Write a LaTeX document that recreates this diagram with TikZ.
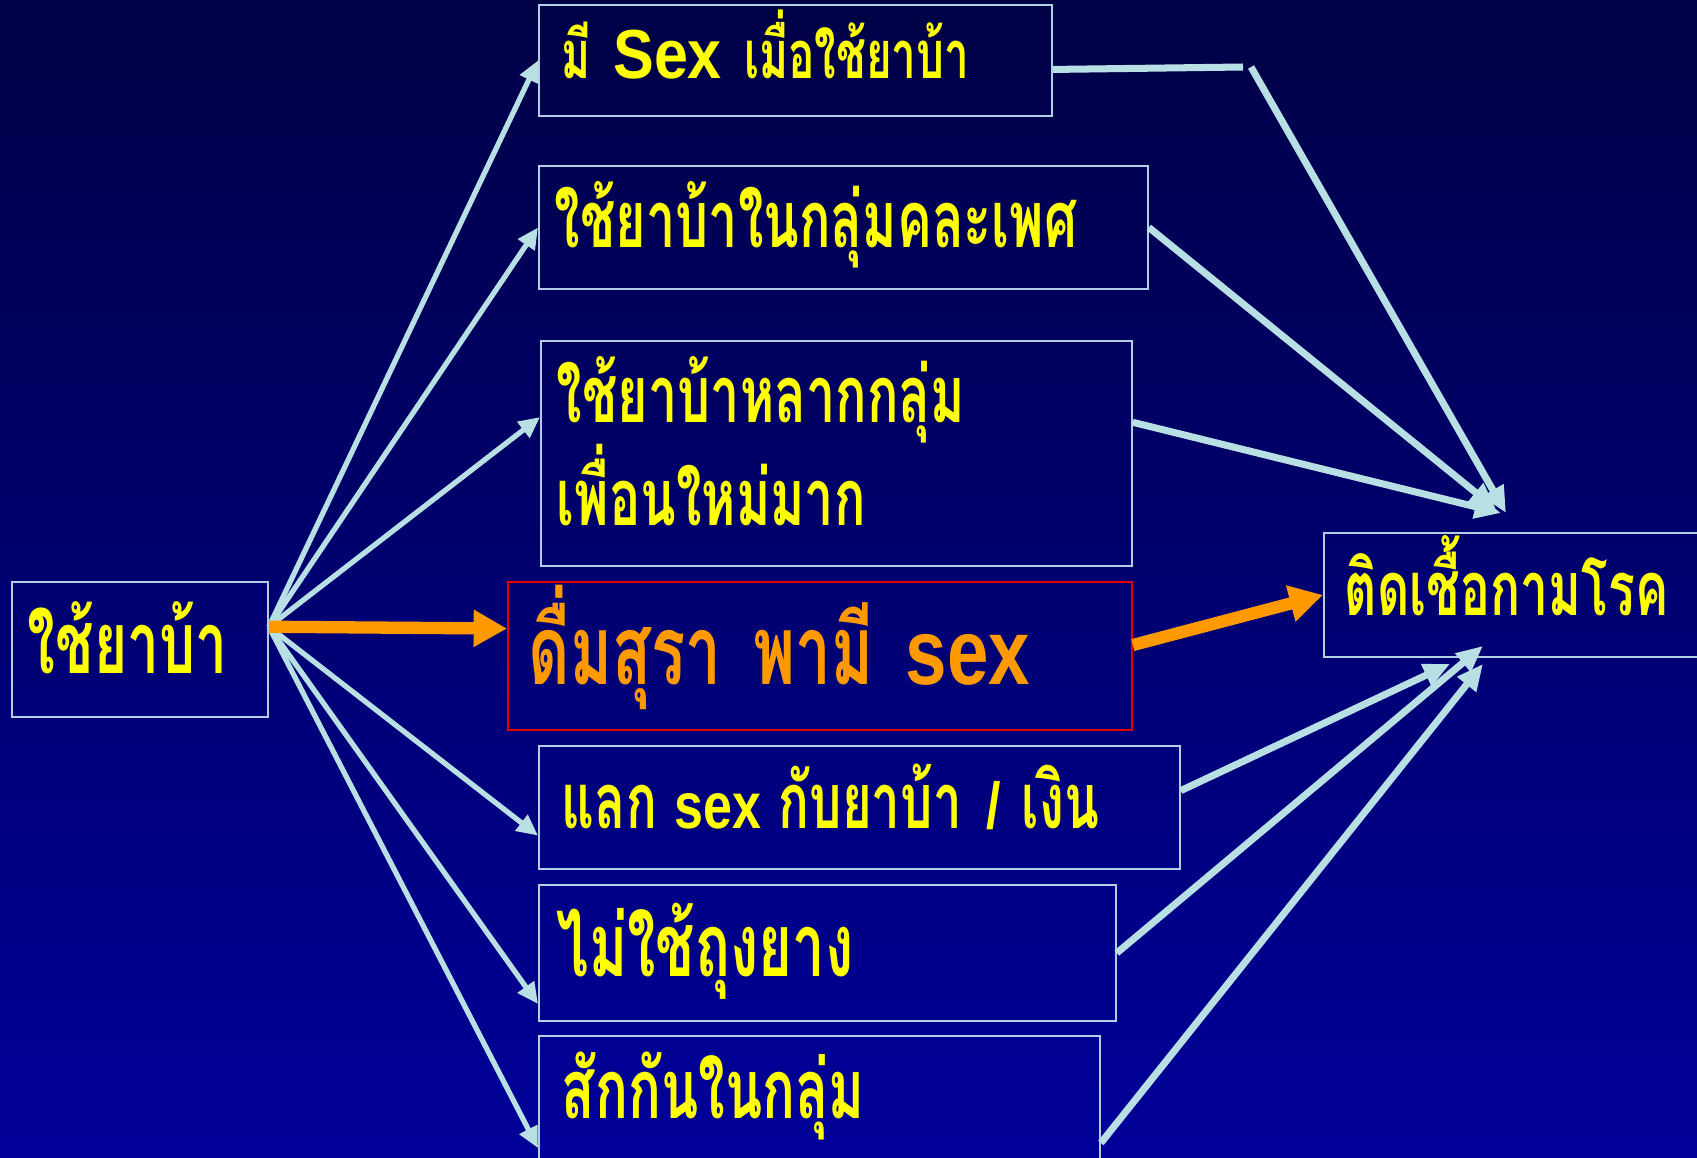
\documentclass[tikz,border=0pt]{standalone}
\usepackage{fontspec}
\usetikzlibrary{arrows.meta,calc}
\newfontfamily\thaifont[Script=Thai,FakeStretch=0.66]{Loma}
\newfontfamily\latinfont[FakeStretch=0.8]{Liberation Sans}
\newfontfamily\latinwide[FakeStretch=0.88]{Liberation Sans}
\definecolor{bgtop}{RGB}{0,0,70}
\definecolor{bgbottom}{RGB}{0,0,153}
\definecolor{frame}{RGB}{176,206,228}
\definecolor{arrowblue}{RGB}{184,224,228}
\definecolor{thaiyellow}{RGB}{255,255,0}
\definecolor{drinkorange}{RGB}{255,153,0}
\definecolor{alertred}{RGB}{230,0,0}
\newcommand{\latword}[2]{{\latinfont\fontsize{#1}{#1}\selectfont #2}}

\begin{document}
\begin{tikzpicture}[x=0.02cm,y=-0.02cm,
  box/.style={draw=frame,line width=1.1pt,anchor=north west,align=left,inner ysep=0pt,text=thaiyellow},
  fs/.style={font=\thaifont\bfseries\fontsize{#1}{#1}\selectfont},
  lift/.style={text height=#1,text depth=0pt},
  fan/.style={arrowblue,line width=3pt,-{Triangle[length=12pt,width=11pt]}},
  feed/.style={arrowblue,line width=4pt,-{Triangle[length=15pt,width=13pt]}},
  hot/.style={drinkorange,line width=7pt,-{Triangle[length=19pt,width=20pt]}}]
\useasboundingbox (0,0) rectangle (1697,1157);
\shade[top color=bgtop,bottom color=bgbottom] (0,0) rectangle (1697,1157);

% use and behaviours
\node[box,fs=49,lift=0.98cm,text width=4.48cm,inner xsep=0.32cm,minimum height=2.7cm] (L) at (11,581) {ใช้ยาบ้า};
\node[box,fs=38,lift=0.74cm,text width=9.34cm,inner xsep=0.46cm,minimum height=2.22cm] (B1) at (538,4) {มี {\latinwide\fontsize{39.5}{39.5}\selectfont Sex} เมื่อใช้ยาบ้า};
\node[box,fs=45,lift=0.82cm,text width=11.54cm,inner xsep=0.32cm,minimum height=2.46cm] (B2) at (538,165) {ใช้ยาบ้าในกลุ่มคละเพศ};
\node[box,font=\thaifont\bfseries\fontsize{45}{58.6}\selectfont,text height=0pt,text depth=1.22cm,text width=11.18cm,inner xsep=0.32cm,minimum height=4.5cm] (B3) at (540,340) {ใช้ยาบ้าหลากกลุ่ม\\เพื่อนใหม่มาก};
\node[box,draw=alertred,text=drinkorange,fs=55,lift=1.16cm,text width=11.64cm,inner xsep=0.42cm,minimum height=2.96cm] (B4) at (507,581) {ดื่มสุรา พามี \latword{53}{sex}};
\node[box,fs=44,lift=0.86cm,text width=11.9cm,inner xsep=0.46cm,minimum height=2.46cm] (B5) at (538,745) {แลก\hspace{10pt}\latword{37}{sex}\hspace{10pt}กับยาบ้า\hspace{14pt}\latword{37}{/}\hspace{12pt}เงิน};
\node[box,fs=50,lift=0.96cm,text width=10.82cm,inner xsep=0.36cm,minimum height=2.72cm] (B6) at (538,884) {ไม่ใช้ถุงยาง};
\node[box,fs=47,lift=0.82cm,text width=10.3cm,inner xsep=0.46cm,minimum height=2.5cm] (B7) at (538,1035) {สักกันในกลุ่ม};
\node[box,fs=43,lift=0.84cm,text width=6.76cm,inner xsep=0.42cm,minimum height=2.48cm] (R) at (1323,532) {ติดเชื้อกามโรค};

% fan out of the left box
\draw[fan] (L.10) -- (B1.west);
\draw[fan] (L.10) -- (B2.west);
\draw[fan] (L.10) -- (B3.173);
\draw[fan] (L.10) -- (B5.185);
\draw[fan] (L.10) -- (B6.190);
\draw[fan] (L.10) -- (B7.190);
\draw[hot] (L.10) -- (B4.175);

% into the infection box
\coordinate (bend) at (1243,67);
\coordinate (resume) at (1251,67);
\draw[arrowblue,line width=4pt] (B1.358) -- (bend);
\draw[feed] (resume) -- ([shift={(183,-19)}]R.north west);
\draw[feed] (B2.east) -- ([shift={(173,-23)}]R.north west);
\draw[feed] (B3.6) -- ([shift={(178,-19)}]R.north west);
\draw[hot] (B4.2) -- (R.west);
\draw[feed] (B5.3) -- ([shift={(127,6)}]R.south west);
\draw[feed] (B6.east) -- ([shift={(160,-12)}]R.south west);
\draw[feed] (B7.351) -- ([shift={(160,6)}]R.south west);
\end{tikzpicture}
\end{document}
